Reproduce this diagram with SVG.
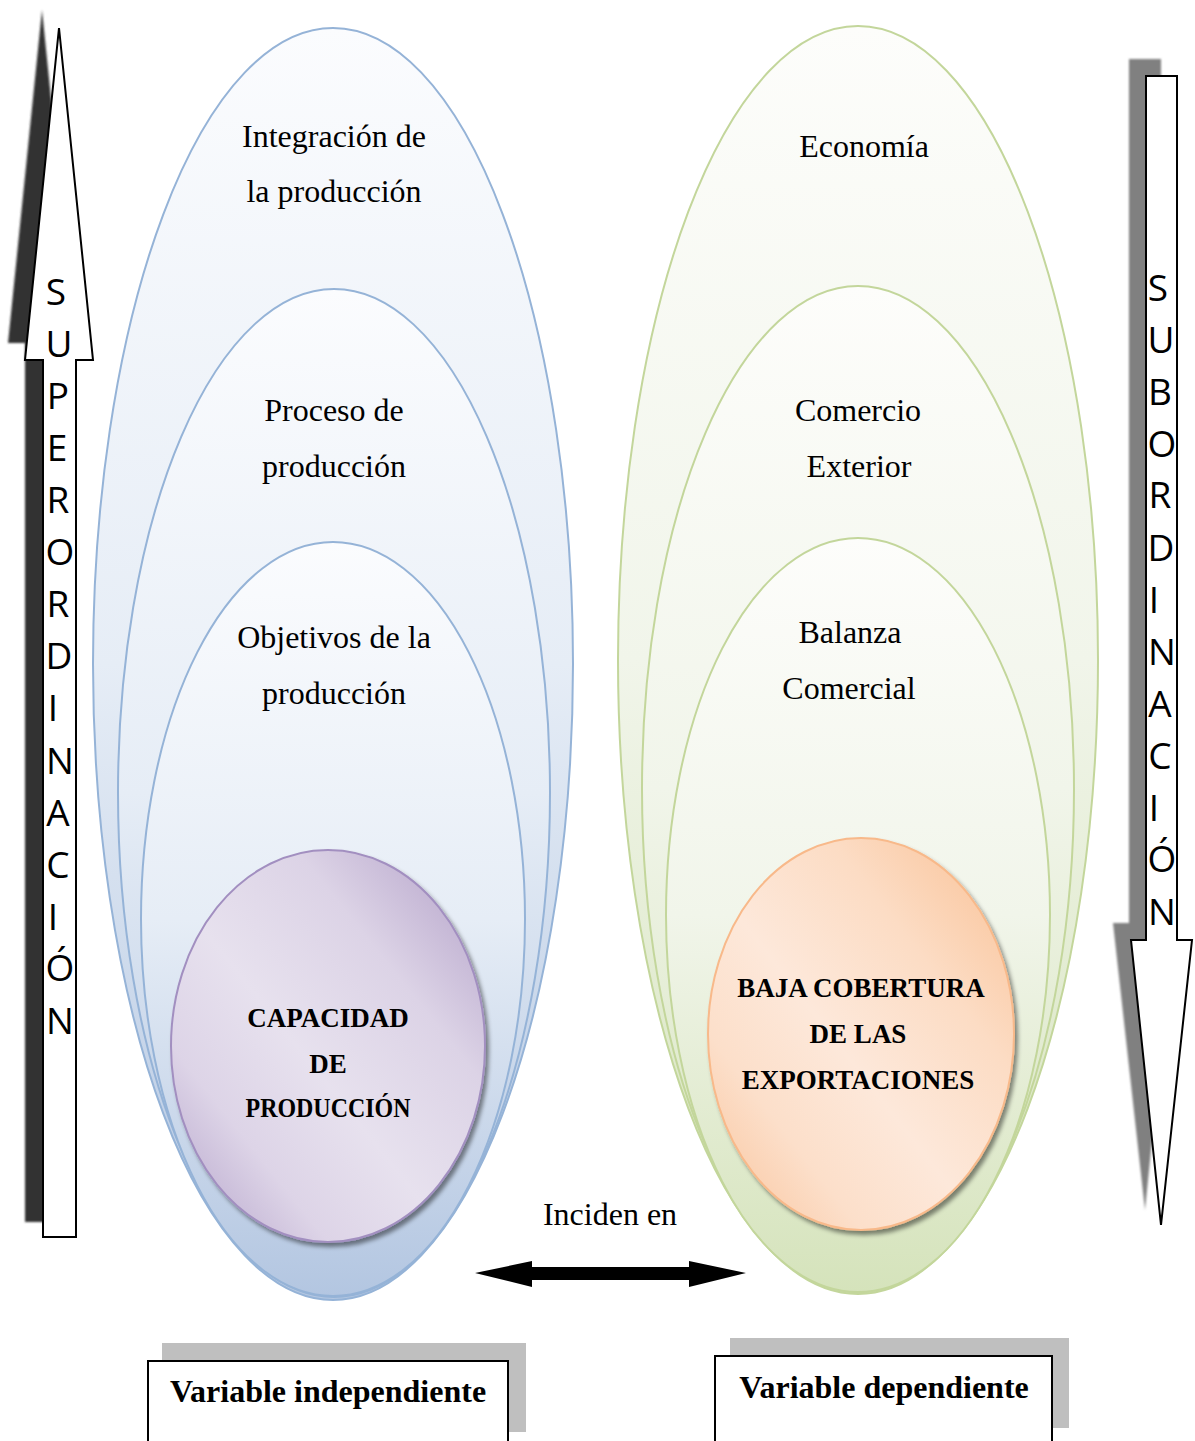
<svg xmlns="http://www.w3.org/2000/svg" width="1195" height="1441" viewBox="0 0 1195 1441">
<defs>
<linearGradient id="gBlue" x1="0" y1="0" x2="0" y2="1">
<stop offset="0" stop-color="#fbfcfe"/>
<stop offset="0.5" stop-color="#e6edf6"/>
<stop offset="1" stop-color="#b3c6e1"/>
</linearGradient>
<linearGradient id="gGreen" x1="0" y1="0" x2="0" y2="1">
<stop offset="0" stop-color="#fdfdfb"/>
<stop offset="0.5" stop-color="#f1f5ea"/>
<stop offset="1" stop-color="#d5e3bb"/>
</linearGradient>
<linearGradient id="gPurple" x1="1" y1="0" x2="0" y2="1">
<stop offset="0" stop-color="#b09dc6"/>
<stop offset="0.3" stop-color="#dcd3e6"/>
<stop offset="0.55" stop-color="#e7e1ee"/>
<stop offset="0.75" stop-color="#ddd4e7"/>
<stop offset="1" stop-color="#b19fc8"/>
</linearGradient>
<linearGradient id="gOrange" x1="1" y1="0" x2="0" y2="1">
<stop offset="0" stop-color="#f9bf92"/>
<stop offset="0.3" stop-color="#fcdcc4"/>
<stop offset="0.55" stop-color="#fde8da"/>
<stop offset="0.75" stop-color="#fcdfca"/>
<stop offset="1" stop-color="#f9c197"/>
</linearGradient>
<filter id="sh" x="-10%" y="-10%" width="125%" height="125%">
<feDropShadow dx="3" dy="4" stdDeviation="2" flood-color="#000" flood-opacity="0.45"/>
</filter>
<filter id="blur1" x="-20%" y="-5%" width="140%" height="110%">
<feGaussianBlur stdDeviation="1"/>
</filter>
</defs>
<style>
.ser{font-family:"Liberation Serif","Times New Roman",serif;font-size:32px;fill:#000;text-anchor:middle}
.bold{font-family:"Liberation Serif","Times New Roman",serif;font-size:27px;font-weight:bold;fill:#000;text-anchor:middle}
.lab{font-family:"Liberation Serif","Times New Roman",serif;font-size:32px;font-weight:bold;fill:#000;text-anchor:middle}
.let{font-family:"Open Sans","Liberation Sans",sans-serif;font-size:37px;fill:#000;text-anchor:middle}
.eb{stroke:#95b3d7;stroke-width:2;fill:url(#gBlue)}
.eg{stroke:#c3d69b;stroke-width:2;fill:url(#gGreen)}
.box{fill:#fff;stroke:#000;stroke-width:2}
.shd{fill:#bfbfbf}
</style>

<g id="arrow-superordinacion">
<path d="M42,10 L76,343 L58,343 L58,1222 L25,1222 L25,343 L8,343 Z" fill="#333333" filter="url(#blur1)"/>
<path d="M59,28 L93,360 L76,360 L76,1237 L43,1237 L43,360 L25,360 Z" fill="#fff" stroke="#000" stroke-width="2"/>
<text class="let" x="56" y="305">S</text>
<text class="let" x="59" y="357">U</text>
<text class="let" x="58" y="409">P</text>
<text class="let" x="57" y="461">E</text>
<text class="let" x="58" y="513">R</text>
<text class="let" x="60" y="565">O</text>
<text class="let" x="58" y="617">R</text>
<text class="let" x="59" y="669">D</text>
<text class="let" x="53" y="721">I</text>
<text class="let" x="60" y="774">N</text>
<text class="let" x="58" y="826">A</text>
<text class="let" x="58" y="878">C</text>
<text class="let" x="53" y="930">I</text>
<text class="let" x="60" y="981">Ó</text>
<text class="let" x="60" y="1034">N</text>
</g>

<g id="arrow-subordinacion">
<path d="M1129,59 L1161,59 L1161,923 L1174,923 L1145,1210 L1113,923 L1129,923 Z" fill="#808080" filter="url(#blur1)"/>
<path d="M1146,76 L1177,76 L1177,940 L1192,940 L1161,1225 L1131,940 L1146,940 Z" fill="#fff" stroke="#000" stroke-width="2"/>
<text class="let" x="1158" y="301">S</text>
<text class="let" x="1161" y="353">U</text>
<text class="let" x="1160" y="405">B</text>
<text class="let" x="1162" y="457">O</text>
<text class="let" x="1160" y="508">R</text>
<text class="let" x="1161" y="561">D</text>
<text class="let" x="1154" y="613">I</text>
<text class="let" x="1162" y="665">N</text>
<text class="let" x="1160" y="717">A</text>
<text class="let" x="1160" y="769">C</text>
<text class="let" x="1154" y="821">I</text>
<text class="let" x="1162" y="872">Ó</text>
<text class="let" x="1162" y="925">N</text>
</g>

<g id="left-ellipses">
<ellipse id="integracion" class="eb" cx="333" cy="664" rx="240" ry="636"/>
<ellipse id="proceso" class="eb" cx="334" cy="793" rx="216" ry="504"/>
<ellipse id="objetivos" class="eb" cx="333" cy="919" rx="192" ry="377"/>
<text class="ser" x="334" y="147">Integración de</text>
<text class="ser" x="334" y="202">la producción</text>
<text class="ser" x="334" y="421">Proceso de</text>
<text class="ser" x="334" y="477">producción</text>
<text class="ser" x="334" y="648">Objetivos de la</text>
<text class="ser" x="334" y="704">producción</text>
</g>

<g id="capacidad">
<ellipse cx="328" cy="1046" rx="157" ry="196" fill="url(#gPurple)" stroke="#a28fc0" stroke-width="2" filter="url(#sh)"/>
<text class="bold" x="328" y="1027">CAPACIDAD</text>
<text class="bold" x="328" y="1073">DE</text>
<text class="bold" x="328" y="1117" textLength="165" lengthAdjust="spacingAndGlyphs">PRODUCCIÓN</text>
</g>

<g id="right-ellipses">
<ellipse id="economia" class="eg" cx="858" cy="660" rx="240" ry="634"/>
<ellipse id="comercio" class="eg" cx="858" cy="789" rx="216" ry="503"/>
<ellipse id="balanza" class="eg" cx="858" cy="915" rx="192" ry="377"/>
<text class="ser" x="864" y="157">Economía</text>
<text class="ser" x="858" y="421">Comercio</text>
<text class="ser" x="859" y="477">Exterior</text>
<text class="ser" x="850" y="643">Balanza</text>
<text class="ser" x="849" y="699">Comercial</text>
</g>

<g id="baja-cobertura">
<ellipse cx="861" cy="1034" rx="153" ry="196" fill="url(#gOrange)" stroke="#f8b98a" stroke-width="2" filter="url(#sh)"/>
<text class="bold" x="861" y="997">BAJA COBERTURA</text>
<text class="bold" x="858" y="1043">DE LAS</text>
<text class="bold" x="858" y="1089">EXPORTACIONES</text>
</g>

<g id="connectors">
<path d="M475,1273 L532,1261 L532,1267 L689,1267 L689,1261 L746,1273 L689,1287 L689,1280 L532,1280 L532,1287 Z" fill="#000"/>
<text class="ser" x="610" y="1225">Inciden en</text>
</g>

<g id="variable-independiente">
<rect class="shd" x="162" y="1343" width="364" height="89"/>
<rect class="box" x="148" y="1361" width="360" height="90"/>
<text class="lab" x="328" y="1402">Variable independiente</text>
</g>

<g id="variable-dependiente">
<rect class="shd" x="730" y="1338" width="339" height="90"/>
<rect class="box" x="715" y="1356" width="337" height="95"/>
<text class="lab" x="884" y="1398">Variable dependiente</text>
</g>
</svg>
